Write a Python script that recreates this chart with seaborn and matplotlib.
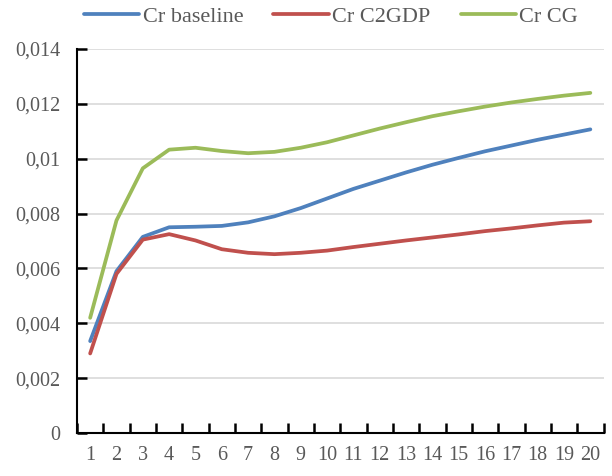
import matplotlib
matplotlib.use("Agg")
import matplotlib.pyplot as plt
import seaborn as sns
import pandas as pd
import numpy as np
from matplotlib.ticker import FixedLocator, FuncFormatter

periods = list(range(1, 21))
cr_baseline = [0.00335, 0.0059, 0.00715, 0.0075, 0.00752, 0.00755, 0.00768, 0.0079, 0.0082, 0.00855,
               0.0089, 0.0092, 0.0095, 0.00978, 0.01003, 0.01027, 0.01048, 0.01069, 0.01088, 0.01107]
cr_c2gdp = [0.0029, 0.0058, 0.00705, 0.00725, 0.00702, 0.0067, 0.00657, 0.00652, 0.00657, 0.00665,
            0.00678, 0.0069, 0.00702, 0.00713, 0.00724, 0.00736, 0.00746, 0.00757, 0.00767, 0.00772]
cr_cg = [0.0042, 0.00775, 0.00965, 0.01033, 0.0104, 0.01028, 0.0102, 0.01025, 0.0104, 0.0106,
         0.01085, 0.0111, 0.01133, 0.01155, 0.01173, 0.0119, 0.01205, 0.01218, 0.0123, 0.0124]
series_names = ["Cr baseline", "Cr C2GDP", "Cr CG"]
colors = ["#4F81BD", "#C0504D", "#9BBB59"]
y_ticks = [0, 0.002, 0.004, 0.006, 0.008, 0.010, 0.012, 0.014]

df = pd.DataFrame({
    "period": periods * 3,
    "value": cr_baseline + cr_c2gdp + cr_cg,
    "series": [series_names[0]] * 20 + [series_names[1]] * 20 + [series_names[2]] * 20,
})

sns.set_style("white")
plt.rcParams["font.family"] = ["Liberation Serif", "DejaVu Serif"]

fig = plt.figure(figsize=(6.12, 4.76), dpi=100)
ax = fig.add_axes([77 / 612, (476 - 433) / 476, (603.5 - 77) / 612, (433 - 49) / 476])

sns.lineplot(data=df, x="period", y="value", hue="series", palette=colors,
             linewidth=2.7, ax=ax, legend=True)

ax.set_xlim(0.5, 20.5)
ax.set_ylim(0, 0.014)
ax.set_xticks(periods)
ax.xaxis.set_minor_locator(FixedLocator(np.arange(0.5, 21, 1)))
ax.yaxis.set_major_locator(FixedLocator(y_ticks))
ax.tick_params(axis="x", which="minor", bottom=True, length=7, width=1.8, color="black",
               direction="in")
ax.tick_params(axis="y", which="major", left=True, length=7, width=1.8, color="black",
               direction="in", pad=12, labelsize=14.5, labelcolor="#595959")
ax.tick_params(axis="x", which="major", bottom=True, length=0, pad=9, labelsize=14.5,
               labelcolor="#595959")

def fmt(v, pos):
    if abs(v) < 1e-12:
        return "0"
    s = f"{v:.3f}".rstrip("0")
    if s.endswith("."):
        s = s[:-1]
    return s.replace(".", ",")

ax.yaxis.set_major_formatter(FuncFormatter(fmt))
ax.set_xlabel("")
ax.set_ylabel("")
ax.grid(axis="y", color="#d9d9d9", linewidth=1.2)
for side in ["top", "right"]:
    ax.spines[side].set_visible(False)
for side in ["left", "bottom"]:
    ax.spines[side].set_color("black")
    ax.spines[side].set_linewidth(1.5)

handles, labels = ax.get_legend_handles_labels()
ax.legend(handles, labels, loc="center", bbox_to_anchor=(331 / 612, 1 - 17 / 476),
          bbox_transform=fig.transFigure, ncol=3, frameon=False, fontsize=16,
          handlelength=2.5, handletextpad=0.15, columnspacing=1.35,
          labelcolor="#595959")

fig.savefig("out.png", dpi=100)
